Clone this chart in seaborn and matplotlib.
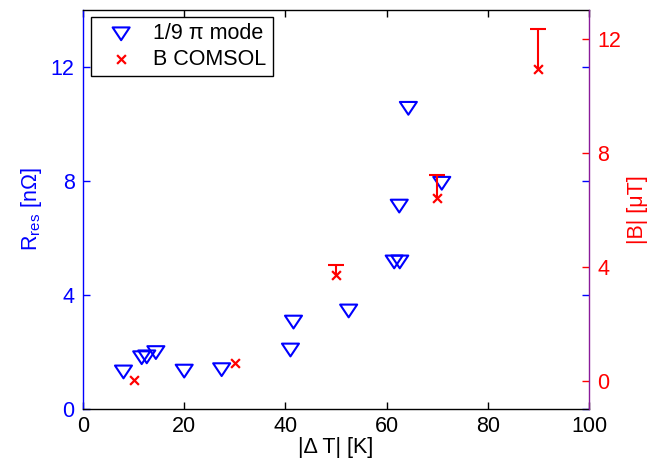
import numpy as np
import pandas as pd
import matplotlib
matplotlib.use("Agg")
import matplotlib.pyplot as plt
from matplotlib.path import Path
import seaborn as sns

# ---- data ----
mode_dT = [8.0, 11.6, 12.6, 14.4, 20.0, 27.4, 41.0, 41.6, 52.5, 61.5, 62.6, 62.5, 64.3, 70.9]
mode_R = [1.30, 1.80, 1.83, 1.98, 1.33, 1.38, 2.07, 3.05, 3.44, 5.16, 5.16, 7.12, 10.55, 7.92]

comsol_dT = [10, 30, 50, 70, 90]
comsol_B = [0.02, 0.62, 3.70, 6.42, 10.93]
comsol_B_err_up = [np.nan, np.nan, 0.35, 0.80, 1.40]

x_ticks = [0, 20, 40, 60, 80, 100]
left_ticks = [0, 4, 8, 12]
right_ticks = [0, 4, 8, 12]

sns.set_style("white")
plt.rcParams["font.family"] = ["Liberation Sans", "DejaVu Sans"]
plt.rcParams["mathtext.fontset"] = "custom"
plt.rcParams["mathtext.rm"] = "Liberation Sans"
plt.rcParams["mathtext.it"] = "Liberation Sans:italic"
plt.rcParams["text.color"] = "black"

BLUE = (0, 0, 1)
RED = (1, 0, 0)
FS = 15.5

df_mode = pd.DataFrame({"dT": mode_dT, "R": mode_R})
df_com = pd.DataFrame({"dT": comsol_dT, "B": comsol_B})

fig = plt.figure(figsize=(6.52, 4.69), dpi=100)
ax = fig.add_axes([83 / 652, 1 - 409 / 469, (589 - 83) / 652, (409 - 10) / 469])
ax2 = ax.twinx()

tri = Path([(-1, 0.75), (1, 0.75), (0, -0.75), (-1, 0.75)],
           [Path.MOVETO, Path.LINETO, Path.LINETO, Path.CLOSEPOLY])

sns.scatterplot(data=df_mode, x="dT", y="R", ax=ax, marker=tri, s=150,
                color=BLUE, facecolor="none", edgecolor=BLUE, linewidth=1.5,
                label="1/9 \u03c0 mode", legend=False, zorder=3)

eb = ax2.errorbar(comsol_dT, comsol_B, yerr=[np.zeros(len(comsol_B)), comsol_B_err_up],
                  fmt="none", ecolor=RED, elinewidth=1.5, capsize=6, capthick=1.5, zorder=2)
eb[1][0].set_visible(False)
sns.scatterplot(data=df_com, x="dT", y="B", ax=ax2, marker="x", s=40,
                color=RED, linewidth=1.6, label="B COMSOL", legend=False, zorder=3)

ax.set_xlim(0, 100)
ax.set_ylim(0, 14)
ax2.set_ylim(-1, 13)
ax.set_xticks(x_ticks)
ax.set_yticks(left_ticks)
ax2.set_yticks(right_ticks)
ax.set_xticklabels([str(t) for t in x_ticks])
ax.set_yticklabels([str(t) for t in left_ticks])
ax2.set_yticklabels([str(t) for t in right_ticks])

ax.tick_params(axis="x", direction="in", length=5, width=1, top=True, bottom=True,
               labelsize=FS, colors="black", pad=5)
ax.tick_params(axis="y", direction="in", length=5, width=1, left=True, right=True,
               labelleft=True, labelright=False, labelsize=FS, colors=BLUE, pad=6)
ax2.tick_params(axis="y", direction="in", length=5, width=1, right=True, left=False,
                labelsize=FS, colors=RED, pad=6)

ax.set_xlabel("|\u0394 T| [K]", fontsize=FS, color="black", labelpad=0)
ax.set_ylabel(r"R$_{\rm res}$ [n$\Omega$]", fontsize=FS, color=BLUE, labelpad=5)
ax2.set_ylabel("|B| [\u03bcT]", fontsize=FS, color=RED, labelpad=4)

for sp in ["top", "bottom"]:
    ax.spines[sp].set_color("black")
ax.spines["left"].set_color(BLUE)
ax.spines["right"].set_visible(False)
ax2.spines["left"].set_visible(False)
ax2.spines["top"].set_visible(False)
ax2.spines["bottom"].set_visible(False)
ax2.spines["right"].set_color("#8a1a9a")
for a in (ax, ax2):
    for sp in a.spines.values():
        sp.set_linewidth(1.0)
ax.grid(False)
ax2.grid(False)

h1, l1 = ax.get_legend_handles_labels()
h2, l2 = ax2.get_legend_handles_labels()
leg = ax2.legend(h1 + h2, l1 + l2, loc="upper left",
                 bbox_to_anchor=((91 - 83) / 506, 1 - (17 - 10) / 399),
                 borderaxespad=0, fontsize=FS, frameon=True, fancybox=False,
                 edgecolor="black", framealpha=1, handletextpad=0.4,
                 borderpad=0.3, labelspacing=0.2, handlelength=2.2)
leg.get_frame().set_linewidth(1.0)
for t in leg.get_texts():
    t.set_color("black")

fig.savefig("out.png", dpi=100)
